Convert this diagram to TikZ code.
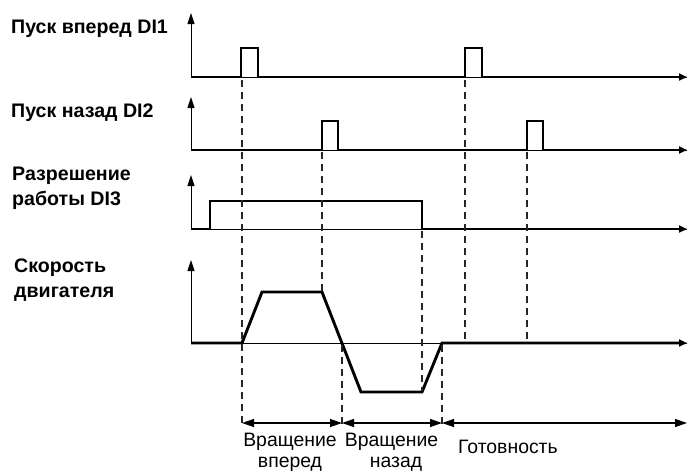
\documentclass[tikz,border=0pt]{standalone}
\usepackage{fontspec}
\setmainfont{Liberation Sans}
\usetikzlibrary{arrows.meta}
\begin{document}
\begin{tikzpicture}[x=1pt,y=-1pt,
  axis/.style={line width=1pt,-{Triangle[length=11pt,width=7pt]}},
  base/.style={line width=1pt},
  sig/.style={line width=2.9pt,line join=miter,-{Triangle[length=8pt,width=7pt]}},
  guide/.style={line width=1.2pt,dash pattern=on 7pt off 5pt,black!85},
  dim/.style={line width=1.2pt,{Triangle[length=12pt,width=8pt]}-{Triangle[length=12pt,width=8pt]}},
  lab/.style={font=\bfseries\fontsize{19.6}{25}\selectfont,anchor=base west,inner sep=0pt},
  tlab/.style={font=\fontsize{19.4}{23}\selectfont,anchor=base,inner sep=0pt}]
\useasboundingbox (0,0) rectangle (687,472);
% labels
\node[lab] (l1) at (11,33) {Пуск вперед DI1};
\node[lab] (l2) at (11,117) {Пуск назад DI2};
\node[lab] (l3a) at (12,180) {Разрешение};
\node[lab] (l3b) at (12,205) {работы DI3};
\node[lab] (l4a) at (14,272) {Скорость};
\node[lab] (l4b) at (14,297) {двигателя};
% axes
\coordinate (o1) at (191,77);  \coordinate (t1) at (191,13);  \coordinate (e1) at (687,77);
\coordinate (o2) at (191,150); \coordinate (t2) at (191,97);  \coordinate (e2) at (687,150);
\coordinate (o3) at (191,229); \coordinate (t3) at (191,175); \coordinate (e3) at (687,229);
\coordinate (o4) at (191,343); \coordinate (t4) at (191,260); \coordinate (e4) at (687,343);
\foreach \i in {1,2,3,4}{
  \draw[axis] (o\i) -- (t\i);
  \draw[base] (o\i) -- (e\i);
}
% signals
\draw[sig] (o1) -- (241,77) -- (241,48) -- (258,48) -- (258,77) -- (465,77) -- (465,48) -- (482,48) -- (482,77) -- (e1);
\draw[sig] (o2) -- (322,150) -- (322,121) -- (338,121) -- (338,150) -- (527,150) -- (527,121) -- (543,121) -- (543,150) -- (e2);
\draw[sig] (o3) -- (210,229) -- (210,201) -- (422,201) -- (422,229) -- (e3);
\draw[sig] (o4) -- (242,343) -- (262,292) -- (322,292) -- (361,392) -- (422,392) -- (442,343) -- (e4);
% guides
\coordinate (d1) at (242,425); \coordinate (d3) at (342,425); \coordinate (d5) at (442,425);
\draw[guide] (242,80) -- (d1);
\draw[guide] (322,152) -- (322,291);
\draw[guide] (342,345) -- (d3);
\draw[guide] (422,231) -- (422,391);
\draw[guide] (442,345) -- (d5);
\draw[guide] (465,80) -- (465,342);
\draw[guide] (527,152) -- (527,342);
% dimensions
\coordinate (a1) at (242,423); \coordinate (a2) at (342,423);
\coordinate (a3) at (442,423); \coordinate (a4) at (687,423);
\draw[dim] (a1) -- (a2);
\draw[dim] (a2) -- (a3);
\draw[dim] (a3) -- (a4);
% bottom labels
\node[tlab] (b1) at (290,446) {Вращение};
\node[tlab] (b2) at (290,467) {вперед};
\node[tlab] (b3) at (391.5,446) {Вращение};
\node[tlab] (b4) at (396,467) {назад};
\node[tlab,anchor=base west] (b5) at (458,453) {Готовность};
\end{tikzpicture}
\end{document}
